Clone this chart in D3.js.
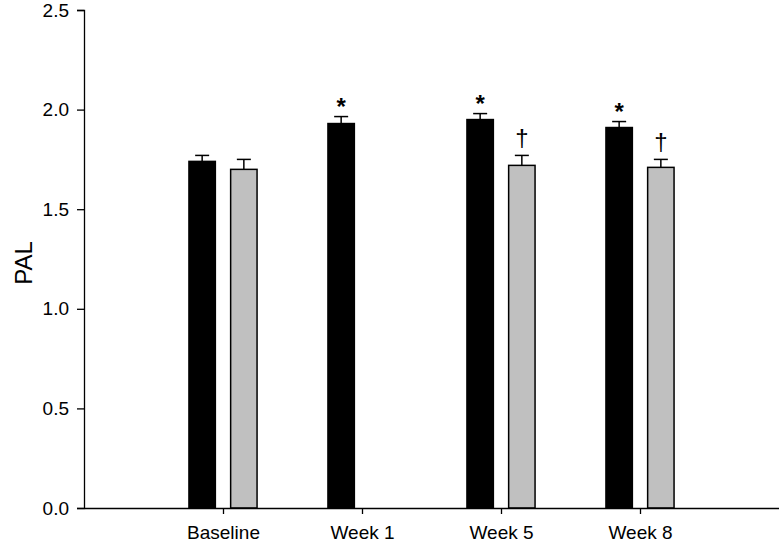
<!DOCTYPE html>
<html>
<head>
<meta charset="utf-8">
<script src="https://cdn.jsdelivr.net/npm/d3@7"></script>
<style>
  html, body { margin: 0; padding: 0; background: #fff; }
  svg { display: block; font-family: "Liberation Sans", Arial, sans-serif; }
</style>
</head>
<body>
<svg id="chart" width="779" height="545"></svg>
<script>
// ---- data ----
const categories = ["Baseline", "Week 1", "Week 5", "Week 8"];
const blackValues = [1.74, 1.93, 1.95, 1.91];
const blackErrors = [0.03, 0.035, 0.03, 0.03];
const grayValues = [1.70, null, 1.72, 1.71];
const grayErrors = [0.05, null, 0.05, 0.04];
const blackMarks = ["", "*", "*", "*"];
const grayMarks = ["", "", "\u2020", "\u2020"];
const yTicks = [0, 0.5, 1.0, 1.5, 2.0, 2.5];
const yLabel = "PAL";

// ---- layout ----
const svg = d3.select("#chart");
const x0 = 84, x1 = 779, yTop = 10, yBottom = 508;

const x = d3.scaleLinear().domain([0, categories.length + 1]).range([x0, x1]);
const y = d3.scaleLinear().domain([0, 2.5]).range([yBottom, yTop]);

const barW = 0.19;   // in category units
const offset = 0.15;
const capHalf = 7;

const series = [
  { values: blackValues, errors: blackErrors, marks: blackMarks, fill: "#000000", off: -offset },
  { values: grayValues, errors: grayErrors, marks: grayMarks, fill: "#c0c0c0", off: offset }
];

series.forEach(s => {
  const g = svg.append("g");
  categories.forEach((c, i) => {
    const v = s.values[i];
    if (v == null) return;
    const cx = x(i + 1 + s.off);
    const left = x(i + 1 + s.off - barW / 2);
    const right = x(i + 1 + s.off + barW / 2);
    const top = y(v + s.errors[i]);
    g.append("line").attr("x1", cx).attr("x2", cx).attr("y1", y(v)).attr("y2", top)
      .attr("stroke", "#000").attr("stroke-width", 1.5);
    g.append("line").attr("x1", cx - capHalf).attr("x2", cx + capHalf).attr("y1", top).attr("y2", top)
      .attr("stroke", "#000").attr("stroke-width", 1.5);
    g.append("rect")
      .attr("x", left).attr("y", y(v))
      .attr("width", right - left).attr("height", y(0) - y(v))
      .attr("fill", s.fill).attr("stroke", "#000").attr("stroke-width", 1.5);
    if (s.marks[i]) {
      const isStar = s.marks[i] === "*";
      g.append("text")
        .attr("x", cx).attr("y", top - (isStar ? 16 : 18))
        .attr("text-anchor", "middle").attr("dominant-baseline", "central")
        .attr("font-size", isStar ? 24 : 24)
        .attr("font-weight", isStar ? "bold" : "normal")
        .attr("dy", isStar ? "0.25em" : "0")
        .text(s.marks[i]);
    }
  });
});

// ---- axes ----
const yAxis = d3.axisLeft(y).tickValues(yTicks).tickFormat(d3.format(".1f")).tickSize(7).tickPadding(8);
const gy = svg.append("g").attr("transform", `translate(${x0},0)`).call(yAxis);
gy.select(".domain").attr("stroke-width", 1.3);
gy.selectAll(".tick line").attr("stroke-width", 1.3);
gy.selectAll("text").attr("font-size", 19).attr("font-family", "Liberation Sans, Arial, sans-serif").attr("fill", "#000");

const xAxis = d3.axisBottom(x).tickValues(d3.range(1, categories.length + 1))
  .tickFormat(d => categories[d - 1]).tickSize(6).tickSizeOuter(0).tickPadding(12);
const gx = svg.append("g").attr("transform", `translate(0,${yBottom})`).call(xAxis);
gx.select(".domain").attr("stroke-width", 1.3);
gx.selectAll(".tick line").attr("stroke-width", 1.3);
gx.selectAll("text").attr("font-size", 19).attr("font-family", "Liberation Sans, Arial, sans-serif").attr("fill", "#000");

svg.append("text")
  .attr("transform", `translate(23,${(yTop + yBottom) / 2 + 4}) rotate(-90)`)
  .attr("text-anchor", "middle").attr("dominant-baseline", "central")
  .attr("font-size", 24).text(yLabel);
</script>
</body>
</html>
